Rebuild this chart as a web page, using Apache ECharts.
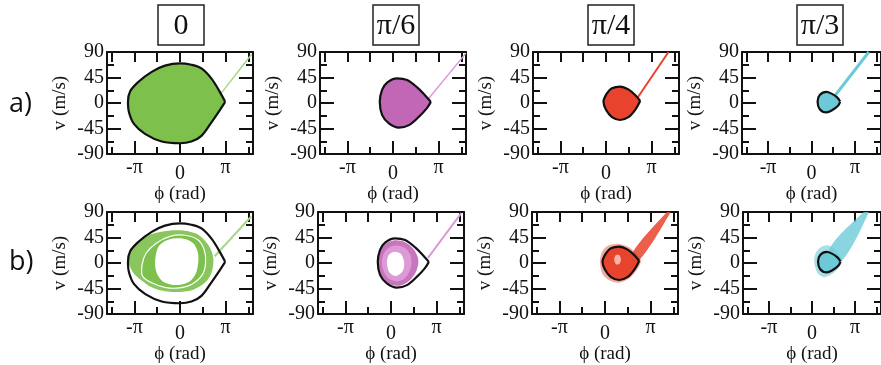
<!DOCTYPE html>
<html>
<head>
<meta charset="utf-8">
<script src="https://cdn.jsdelivr.net/npm/echarts@6/dist/echarts.min.js"></script>
<style>
  html, body { margin: 0; background: #fff; }
  #chart { width: 881px; height: 365px; }
</style>
</head>
<body>
<div id="chart"></div>
<script>
// phase axis is in units of pi, velocity in m/s
const phiMajor = [-1, 0, 1]
const phiMinor = [-1.5, -0.5, 0.5, 1.5]
const phiTicks = [-1.5, -1, -0.5, 0, 0.5, 1, 1.5]
const panelTitles = ['0', 'π/6', 'π/4', 'π/3']
const rowLabels = ['a)', 'b)']

// separatrix outlines, one per synchronous phase (start/end at the cusp)
const sep0 = [[0.99,2],[0.87,20],[0.69,43],[0.47,61],[0.25,67.5],[0,70],[-0.33,66],[-0.62,55],[-0.91,37.5],[-1.09,21],[-1.14,2],[-1.12,-16],[-1.01,-37],[-0.76,-55],[-0.4,-68],[0,-71],[0.25,-68],[0.47,-58],[0.69,-34],[0.87,-13],[0.99,2]]
const sep30 = [[0.83,2],[0.72,12],[0.53,27.5],[0.31,40.5],[0.09,43.5],[-0.13,36],[-0.24,23],[-0.29,2],[-0.24,-21],[-0.09,-36],[0.13,-43.5],[0.35,-39],[0.57,-24],[0.74,-9.5],[0.83,2]]
const sep45 = [[0.75,3.5],[0.64,14],[0.49,24],[0.31,29],[0.13,26],[0.02,17],[-0.055,2],[0,-12],[0.13,-25],[0.31,-30],[0.49,-25],[0.64,-12],[0.75,3.5]]
const sep60 = [[0.66,2.5],[0.59,10],[0.45,17],[0.34,19.5],[0.19,14],[0.14,2.5],[0.19,-11],[0.34,-16.5],[0.48,-12.5],[0.61,-5],[0.66,2.5]]

// row a: escaping particle streaks
const tailA0 = [[0.9,17],[1.57,86]]
const tailA30 = [[0.75,5],[1.6,88]]
const tailA45 = [[0.68,8],[1.37,90]]
const tailA60 = [[0.52,11],[1.32,90]]

// row b, phase 0: particle cloud rings
const cloud0Outer = [[-1.13,3],[-1.05,26.5],[-0.87,41],[-0.62,51],[-0.25,57],[0.11,57],[0.4,50],[0.62,32],[0.73,9],[0.69,-17.6],[0.545,-35],[0.29,-47],[0,-51],[-0.33,-50],[-0.62,-43],[-0.84,-31],[-1.02,-17.6]]
const cloud0Gap = [[-0.83,-3],[-0.74,17.6],[-0.52,35],[-0.22,47],[0.11,49],[0.39,41],[0.53,23.5],[0.56,0],[0.49,-20.6],[0.27,-37],[-0.02,-44],[-0.33,-43],[-0.62,-35],[-0.82,-23.5]]
const cloud0Hole = [[-0.545,3],[-0.47,29],[-0.255,41],[0.073,43],[0.29,35],[0.4,15],[0.364,-15],[0.22,-32],[-0.073,-39],[-0.36,-33.5],[-0.51,-17.6]]
const tailB0 = [[0.76,12],[1.56,82]]

// row b, pi/6
const cloud30Outer = [[-0.3,2],[-0.25,20],[-0.12,34],[0.08,40],[0.3,37],[0.48,26],[0.58,12],[0.6,0],[0.55,-15],[0.42,-30],[0.2,-40],[0,-38],[-0.15,-30],[-0.26,-17]]
const cloud30Mid = [[-0.2,2],[-0.15,18],[-0.03,28],[0.12,31],[0.3,27],[0.42,15],[0.45,0],[0.4,-16],[0.27,-29],[0.1,-32],[-0.07,-26],[-0.17,-13]]
const cloud30Hole = [[-0.09,0],[-0.05,14],[0.07,20],[0.22,16],[0.29,0],[0.25,-15],[0.1,-23],[-0.04,-16]]
const tailB30 = [[0.81,9],[1.54,88]]

// row b, pi/4
const halo45 = [[-0.11,2],[-0.07,19],[0.05,30],[0.27,34],[0.5,29],[0.68,17],[0.79,4],[0.69,-13],[0.52,-28],[0.3,-35],[0.1,-31],[-0.06,-19]]
const speck45 = [[0.2,6],[0.24,14],[0.31,14],[0.35,6],[0.31,-2],[0.24,-2]]
const tailB45 = [[0.6,18],[1.36,90],[1.44,90],[0.75,5]]

// row b, pi/3
const halo60 = [[0.05,3],[0.09,18],[0.2,28],[0.38,31],[0.55,22],[0.69,5],[0.6,-10],[0.45,-20],[0.28,-25],[0.13,-18]]
const tailB60 = [[0.4,24],[1.2,90],[1.32,90],[0.68,3]]

const ink = '#111'
const SERIF = "'Liberation Serif','DejaVu Serif',serif"
const green = '#7dc04c', greenLight = '#a8d68a'
const pink = '#c266b6', pinkLight = '#dc9ad6'
const red = '#e8432c', cyan = '#6ccad8'

const W = 146, H = 102
const rowTops = [52, 212]
const colLefts = [[107, 320, 533, 742], [107, 318, 532, 743]]
const titleCenters = [181, 396, 611, 820]

const grids = [], xAxes = [], yAxes = [], series = []

const lineW = { color: ink, width: 2 }

for (let r = 0; r < 2; r++) {
  for (let c = 0; c < 4; c++) {
    const i = grids.length
    grids.push({ left: colLefts[r][c], top: rowTops[r], width: W, height: H })
    xAxes.push({
      gridIndex: i, type: 'value', min: -1.6, max: 1.6, position: 'bottom',
      axisLine: { show: true, onZero: false, lineStyle: lineW },
      axisTick: { show: true, inside: true, length: 13, customValues: phiMajor, lineStyle: lineW },
      axisLabel: {
        show: true, customValues: phiMajor, margin: 4, color: ink, fontFamily: SERIF, fontSize: 20,
        formatter: v => v === 0 ? '{z|0}' : (v < 0 ? '-π' : 'π'),
        rich: { z: { fontFamily: SERIF, fontSize: 20, color: ink, padding: [6, 0, 0, 0] } }
      },
      splitLine: { show: false },
      name: 'ϕ (rad)', nameLocation: 'middle', nameGap: 27,
      nameTextStyle: { fontFamily: SERIF, fontSize: 19, color: ink }
    })
    xAxes.push({
      gridIndex: i, type: 'value', min: -1.6, max: 1.6, position: 'bottom',
      axisLine: { show: false, onZero: false },
      axisTick: { show: true, inside: true, length: 7, customValues: phiMinor, lineStyle: lineW },
      axisLabel: { show: false }, splitLine: { show: false }
    })
    xAxes.push({
      gridIndex: i, type: 'value', min: -1.6, max: 1.6, position: 'top',
      axisLine: { show: true, onZero: false, lineStyle: lineW },
      axisTick: { show: true, inside: true, length: 10, customValues: phiTicks, lineStyle: lineW },
      axisLabel: { show: false }, splitLine: { show: false }
    })
    yAxes.push({
      gridIndex: i, type: 'value', min: -90, max: 90, interval: 45, position: 'left',
      axisLine: { show: true, onZero: false, lineStyle: lineW },
      axisTick: { show: true, inside: true, length: 14, lineStyle: lineW },
      minorTick: { show: true, splitNumber: 2, length: 7, lineStyle: lineW },
      axisLabel: { margin: 3, color: ink, fontFamily: SERIF, fontSize: 20 },
      splitLine: { show: false },
      name: 'v (m/s)', nameLocation: 'middle', nameGap: 37, nameRotate: 90,
      nameTextStyle: { fontFamily: SERIF, fontSize: 19, color: ink }
    })
    yAxes.push({
      gridIndex: i, type: 'value', min: -90, max: 90, interval: 45, position: 'right',
      axisLine: { show: true, onZero: false, lineStyle: lineW },
      axisTick: { show: true, inside: true, length: 14, lineStyle: lineW },
      minorTick: { show: true, splitNumber: 2, length: 7, lineStyle: lineW },
      axisLabel: { show: false }, splitLine: { show: false }
    })
  }
}

function poly(i, pts, fill, opacity, z, stroke, lw) {
  series.push({
    type: 'custom', xAxisIndex: 3 * i, yAxisIndex: 2 * i, z: z, clip: true, silent: true,
    data: [[0, 0]],
    renderItem: (params, api) => ({
      type: 'polygon',
      shape: { points: pts.map(p => api.coord(p)), smooth: 0.3 },
      style: { fill: fill, opacity: opacity, stroke: stroke || null, lineWidth: lw || 0 }
    })
  })
}

function curve(i, pts, color, width, smooth, z) {
  series.push({
    type: 'line', xAxisIndex: 3 * i, yAxisIndex: 2 * i, z: z, data: pts,
    smooth: smooth, showSymbol: false, silent: true, animation: false,
    lineStyle: { color: color, width: width }
  })
}

// row a
curve(0, tailA0, greenLight, 1.5, false, 2)
poly(0, sep0, green, 1, 3)
curve(0, sep0, ink, 2.2, 0.35, 5)

curve(1, tailA30, pinkLight, 1.5, false, 2)
poly(1, sep30, pink, 1, 3)
curve(1, sep30, ink, 2.2, 0.35, 5)

curve(2, tailA45, red, 2, false, 2)
poly(2, sep45, red, 1, 3)
curve(2, sep45, ink, 2.2, 0.35, 5)

curve(3, tailA60, cyan, 3, false, 2)
poly(3, sep60, cyan, 1, 3)
curve(3, sep60, ink, 2.2, 0.35, 5)

// row b
curve(4, tailB0, greenLight, 2, false, 2)
poly(4, cloud0Outer, green, 0.9, 3)
poly(4, cloud0Gap, green, 1, 3, '#fff', 1.2)
poly(4, cloud0Hole, '#fff', 1, 4)
curve(4, sep0, ink, 2.2, 0.35, 5)

curve(5, tailB30, pinkLight, 2, false, 2)
poly(5, cloud30Outer, pink, 0.9, 3)
poly(5, cloud30Mid, pinkLight, 1, 3)
poly(5, cloud30Hole, '#fff', 1, 4)
curve(5, sep30, ink, 2.2, 0.35, 5)

poly(6, tailB45, red, 0.85, 2)
poly(6, halo45, red, 0.45, 3)
poly(6, sep45, red, 1, 3)
poly(6, speck45, '#fff', 0.6, 4)
curve(6, sep45, ink, 2.2, 0.35, 5)

poly(7, tailB60, cyan, 0.8, 2)
poly(7, halo60, cyan, 0.6, 3)
poly(7, sep60, cyan, 1, 3)
curve(7, sep60, ink, 2.2, 0.35, 5)

const graphic = []
titleCenters.forEach((cx, k) => {
  graphic.push({ type: 'rect', shape: { x: cx - 23, y: 5, width: 46, height: 40 },
    style: { fill: 'none', stroke: '#222', lineWidth: 1.5 } })
  graphic.push({ type: 'text', x: cx, y: 26,
    style: { text: panelTitles[k], fontFamily: SERIF, fontSize: 30, fill: ink, align: 'center', verticalAlign: 'middle' } })
})
rowLabels.forEach((t, r) => {
  graphic.push({ type: 'text', x: 9, y: [104, 262][r],
    style: { text: t, fontFamily: "'Open Sans','Noto Sans',sans-serif", fontSize: 27, fill: ink, align: 'left', verticalAlign: 'middle' } })
})

const chart = echarts.init(document.getElementById('chart'))
chart.setOption({
  animation: false,
  grid: grids,
  xAxis: xAxes,
  yAxis: yAxes,
  series: series,
  graphic: graphic
})
</script>
</body>
</html>
